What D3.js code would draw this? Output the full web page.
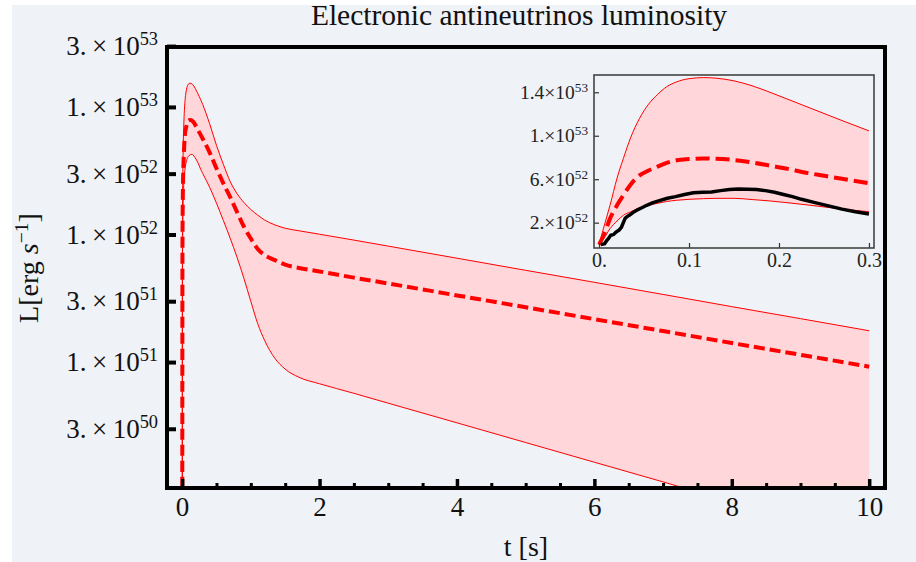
<!DOCTYPE html>
<html>
<head>
<meta charset="utf-8">
<script src="https://cdn.jsdelivr.net/npm/d3@7"></script>
<style>
  html, body { margin: 0; padding: 0; background: #fff; }
  svg { display: block; }
  svg text { font-family: "Liberation Serif", "Times New Roman", serif; }
</style>
</head>
<body>
<svg id="chart" width="916" height="562"></svg>
<script>
// luminosity values in units of 1e52 erg/s
const UNIT = 1e52;
const times = [0, 0.005, 0.0122, 0.02, 0.027, 0.035, 0.045, 0.055, 0.065, 0.075,
  0.086, 0.1, 0.116, 0.13, 0.15, 0.17, 0.19, 0.21, 0.23, 0.25,
  0.27, 0.3, 0.4, 0.5, 0.6, 0.7, 0.8, 0.9, 1.0, 1.1,
  1.2, 1.35, 1.5, 1.7, 2.0, 2.5, 3, 4, 5, 6,
  7, 8, 9, 10];
const upper = [0, 1.5, 3.6, 6.1, 7.9, 9.8, 11.6, 12.9, 13.8, 14.5,
  14.95, 15.25, 15.35, 15.3, 15.05, 14.6, 14.0, 13.35, 12.7, 12.05,
  11.4, 10.45, 7.4, 5.0, 3.55, 2.6, 2.09, 1.78, 1.57, 1.42,
  1.30, 1.19, 1.12, 1.07, 1.005, 0.904, 0.811, 0.652, 0.524, 0.422,
  0.339, 0.272, 0.219, 0.176];
const median = [0, 0.8, 2.37, 3.6, 4.52, 5.5, 6.35, 6.8, 7.15, 7.5,
  7.74, 7.85, 7.9, 7.88, 7.77, 7.55, 7.25, 6.95, 6.6, 6.32,
  6.04, 5.63, 4.4, 3.3, 2.52, 1.96, 1.50, 1.15, 0.93, 0.77,
  0.69, 0.63, 0.58, 0.547, 0.513, 0.459, 0.413, 0.333, 0.269, 0.217,
  0.175, 0.141, 0.114, 0.092];
const lower = [0, 0.5, 1.45, 2.15, 2.68, 3.0, 3.35, 3.6, 3.78, 3.95,
  4.06, 4.15, 4.21, 4.24, 4.24, 4.13, 4.0, 3.83, 3.65, 3.45,
  3.25, 3.01, 2.35, 1.76, 1.29, 0.933, 0.661, 0.452, 0.299, 0.20,
  0.148, 0.107, 0.088, 0.076, 0.0676, 0.0569, 0.0476, 0.0334, 0.0234, 0.0164,
  0.0115, 0.0080, 0.0056, 0.0039];

// measured data (inset, black)
const dataTimes = [0.002, 0.006, 0.009, 0.011, 0.013, 0.016, 0.019, 0.022, 0.025, 0.027,
  0.029, 0.031, 0.034, 0.038, 0.042, 0.047, 0.053, 0.06, 0.068, 0.076,
  0.085, 0.095, 0.105, 0.115, 0.125, 0.135, 0.145, 0.155, 0.165, 0.175,
  0.185, 0.195, 0.205, 0.215, 0.225, 0.24, 0.255, 0.27, 0.285, 0.3];
const dataLum = [0.0, 0.05, 0.4, 0.6, 0.85, 0.9, 1.15, 1.3, 1.6, 2.0,
  2.4, 2.55, 2.7, 2.95, 3.15, 3.35, 3.6, 3.85, 4.05, 4.25,
  4.4, 4.6, 4.75, 4.8, 4.82, 4.95, 5.05, 5.1, 5.08, 5.05,
  4.95, 4.8, 4.6, 4.4, 4.15, 3.85, 3.55, 3.25, 3.0, 2.8];

const xTicks = [0, 2, 4, 6, 8, 10];
const xMinor = d3.range(0.5, 10, 0.5).filter(d => d % 2 !== 0);
const yTicks = [3e53, 1e53, 3e52, 1e52, 3e51, 1e51, 3e50];
const insetXTicks = [0, 0.1, 0.2, 0.3];
const insetYTicks = [2, 6, 10, 14];

const title = "Electronic antineutrinos luminosity";
const BG = "#eff2f6";
const FILL = "#ffd6d9";
const SERIF = "'Liberation Serif', 'Times New Roman', serif";

const rows = times.map((t, i) => ({t, hi: upper[i], mid: median[i], lo: lower[i]}));
const dataRows = dataTimes.map((t, i) => ({t, v: dataLum[i]}));

const svg = d3.select("#chart");
svg.append("rect").attr("x", 12).attr("y", 5).attr("width", 904).attr("height", 557).attr("fill", BG);

// ---------- main plot ----------
const box = {left: 167, right: 885, top: 47, bottom: 488};
const x = d3.scaleLinear().domain([-0.22, 10.23]).range([box.left, box.right]);
const y = d3.scaleLog().domain([1.03e50, 2.95e53]).range([box.bottom, box.top]);
const ly = v => y(Math.max(v * UNIT, 1e46));

svg.append("clipPath").attr("id", "mainClip")
  .append("rect").attr("x", box.left).attr("y", box.top)
  .attr("width", box.right - box.left).attr("height", box.bottom - box.top);

const plot = svg.append("g").attr("clip-path", "url(#mainClip)");

plot.append("path").datum(rows)
  .attr("fill", FILL)
  .attr("d", d3.area().curve(d3.curveMonotoneX)
    .x(d => x(d.t)).y0(d => ly(d.lo)).y1(d => ly(d.hi)));

const mainLine = key => d3.line().curve(d3.curveMonotoneX).x(d => x(d.t)).y(d => ly(d[key]));
["hi", "lo"].forEach(k => {
  plot.append("path").datum(rows).attr("fill", "none")
    .attr("stroke", "#ff0000").attr("stroke-width", 1).attr("d", mainLine(k));
});
plot.append("path").datum(rows).attr("fill", "none")
  .attr("stroke", "#ff0000").attr("stroke-width", 4)
  .attr("stroke-dasharray", "11,5").attr("d", mainLine("mid"));

function sup(textSel, base, exp) {
  textSel.text(null);
  textSel.append("tspan").text(base);
  textSel.append("tspan").attr("dy", "-0.55em").style("font-size", "0.68em").text(exp);
}
function sciParts(v) {
  const e = Math.floor(Math.log10(v) + 1e-9);
  const m = +(v / Math.pow(10, e)).toFixed(1);
  return [(Number.isInteger(m) ? m + "." : String(m)) + "\u2009\u00d7\u200910", e];
}

// y axis
svg.append("g").attr("transform", `translate(${box.left},0)`)
  .call(d3.axisLeft(y).tickValues(yTicks).tickSize(-9).tickPadding(9))
  .call(g => g.select(".domain").remove())
  .call(g => g.selectAll(".tick line").attr("stroke", "#000").attr("stroke-width", 4))
  .call(g => g.selectAll(".tick text").style("font-size", "27px").style("font-family", SERIF)
    .attr("fill", "#111")
    .each(function(d) { const p = sciParts(d); sup(d3.select(this), p[0], p[1]); }));

// x axis
svg.append("g").attr("transform", `translate(0,${box.bottom})`)
  .call(d3.axisBottom(x).tickValues(xMinor).tickSize(-5).tickFormat(""))
  .call(g => g.select(".domain").remove())
  .call(g => g.selectAll(".tick line").attr("stroke", "#000").attr("stroke-width", 3));
svg.append("g").attr("transform", `translate(0,${box.bottom})`)
  .call(d3.axisBottom(x).tickValues(xTicks).tickSize(-9).tickPadding(9))
  .call(g => g.select(".domain").remove())
  .call(g => g.selectAll(".tick line").attr("stroke", "#000").attr("stroke-width", 3.5))
  .call(g => g.selectAll(".tick text").style("font-size", "27px").style("font-family", SERIF).attr("fill", "#111"));

svg.append("rect").attr("x", box.left).attr("y", box.top)
  .attr("width", box.right - box.left).attr("height", box.bottom - box.top)
  .attr("fill", "none").attr("stroke", "#000").attr("stroke-width", 4);

// titles
svg.append("text").attr("x", 519).attr("y", 25).attr("text-anchor", "middle")
  .style("font-size", "29.5px").attr("fill", "#111").text(title);
svg.append("text").attr("x", 526).attr("y", 556).attr("text-anchor", "middle")
  .style("font-size", "28px").attr("fill", "#111").text("t [s]");
const yl = svg.append("text").attr("transform", "translate(38,268) rotate(-90)")
  .attr("text-anchor", "middle").style("font-size", "28px").attr("fill", "#111");
yl.append("tspan").text("L[erg ");
yl.append("tspan").attr("font-style", "italic").text("s");
yl.append("tspan").attr("dy", "-0.5em").style("font-size", "0.7em").text("\u22121");
yl.append("tspan").attr("dy", "0.35em").text("]");

// ---------- inset ----------
const ib = {left: 594, right: 874, top: 75, bottom: 248};
const ix = d3.scaleLinear().domain([-0.0056, 0.3056]).range([ib.left, ib.right]);
const iy = d3.scaleLinear().domain([-0.33, 15.59]).range([ib.bottom, ib.top]);

svg.append("rect").attr("x", ib.left).attr("y", ib.top)
  .attr("width", ib.right - ib.left).attr("height", ib.bottom - ib.top).attr("fill", BG);
svg.append("clipPath").attr("id", "insetClip")
  .append("rect").attr("x", ib.left).attr("y", ib.top)
  .attr("width", ib.right - ib.left).attr("height", ib.bottom - ib.top);

const insetRows = rows.filter(d => d.t <= 0.3);
const inset = svg.append("g").attr("clip-path", "url(#insetClip)");
inset.append("path").datum(insetRows).attr("fill", FILL)
  .attr("d", d3.area().curve(d3.curveMonotoneX)
    .x(d => ix(d.t)).y0(d => iy(d.lo)).y1(d => iy(d.hi)));
const insetLine = key => d3.line().curve(d3.curveMonotoneX).x(d => ix(d.t)).y(d => iy(d[key]));
["hi", "lo"].forEach(k => {
  inset.append("path").datum(insetRows).attr("fill", "none")
    .attr("stroke", "#ff0000").attr("stroke-width", 1).attr("d", insetLine(k));
});
inset.append("path").datum(insetRows).attr("fill", "none")
  .attr("stroke", "#ff0000").attr("stroke-width", 4)
  .attr("stroke-dasharray", "14,6").attr("d", insetLine("mid"));
inset.append("path").datum(dataRows).attr("fill", "none")
  .attr("stroke", "#000").attr("stroke-width", 3.5).attr("stroke-linejoin", "round")
  .attr("d", d3.line().x(d => ix(d.t)).y(d => iy(d.v)));

svg.append("g").attr("transform", `translate(${ib.left},0)`)
  .call(d3.axisLeft(iy).tickValues(insetYTicks).tickSize(-5).tickPadding(6))
  .call(g => g.select(".domain").remove())
  .call(g => g.selectAll(".tick line").attr("stroke", "#333").attr("stroke-width", 1.2))
  .call(g => g.selectAll(".tick text").style("font-size", "19.5px").style("font-family", SERIF)
    .attr("fill", "#222")
    .each(function(d) { const p = sciParts(d * UNIT); sup(d3.select(this), p[0].replace(/\u2009/g, ""), p[1]); }));
svg.append("g").attr("transform", `translate(0,${ib.bottom})`)
  .call(d3.axisBottom(ix).tickValues(insetXTicks).tickSize(-5).tickPadding(5)
    .tickFormat(d => d === 0 ? "0." : d3.format(".1f")(d)))
  .call(g => g.select(".domain").remove())
  .call(g => g.selectAll(".tick line").attr("stroke", "#333").attr("stroke-width", 1.2))
  .call(g => g.selectAll(".tick text").style("font-size", "20px").style("font-family", SERIF).attr("fill", "#222"));

svg.append("rect").attr("x", ib.left).attr("y", ib.top)
  .attr("width", ib.right - ib.left).attr("height", ib.bottom - ib.top)
  .attr("fill", "none").attr("stroke", "#444").attr("stroke-width", 1.6);
</script>
</body>
</html>
